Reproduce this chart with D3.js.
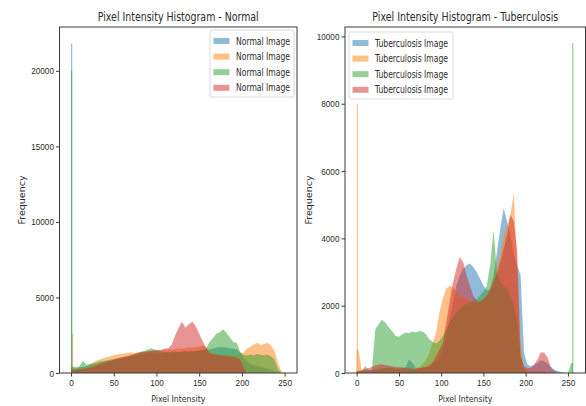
<!DOCTYPE html>
<html>
<head>
<meta charset="utf-8">
<script src="https://cdn.jsdelivr.net/npm/d3@7"></script>
<style>
  body { margin: 0; background: #fff; }
  svg { display: block; font-family: "DejaVu Sans", sans-serif; }
</style>
</head>
<body>
<div id="chart"></div>
<script>
// histogram counts, one value per 4-intensity bin (0-3, 4-7, ... 252-255)
const binWidth = 4;
const xTicks = [0, 50, 100, 150, 200, 250];
const normalYTicks = [0, 5000, 10000, 15000, 20000];
const tbYTicks = [0, 2000, 4000, 6000, 8000, 10000];
const seriesColors = ["#1f77b4", "#ff7f0e", "#2ca02c", "#d62728"];

const normalBlue = [250, 320, 380, 420, 470, 520, 560, 610, 680, 720, 790, 830, 870, 940, 990, 1030,
  1080, 1120, 1170, 1210, 1260, 1290, 1330, 1360, 1340, 1310, 1330, 1350, 1380, 1400, 1420, 1390,
  1410, 1440, 1420, 1460, 1450, 1480, 1500, 1520, 1560, 1620, 1680, 1720, 1700, 1690, 1640, 1600,
  1580, 1350, 1000, 760, 600, 540, 480, 420, 360, 300, 220, 130, 40, 0, 0, 0];
const normalOrange = [400, 230, 260, 300, 420, 560, 700, 820, 900, 980, 1050, 1110, 1170, 1230, 1260, 1290,
  1320, 1350, 1310, 1380, 1400, 1430, 1460, 1440, 1480, 1500, 1470, 1530, 1560, 1540, 1590, 1620,
  1600, 1650, 1700, 1680, 1720, 1760, 1800, 1700, 1450, 1300, 1250, 1220, 1200, 1180, 1150, 1160,
  1200, 1250, 1350, 1600, 1750, 1880, 2000, 1850, 1920, 1980, 1800, 1500, 700, 150, 0, 0];
const normalGreen = [420, 380, 450, 820, 560, 600, 650, 700, 760, 800, 850, 880, 920, 960, 1000, 1050,
  1100, 1160, 1230, 1320, 1400, 1480, 1560, 1640, 1560, 1480, 1420, 1400, 1380, 1350, 1400, 1380,
  1420, 1450, 1400, 1430, 1460, 1480, 1520, 1600, 2050, 2300, 2600, 2700, 2900, 2650, 2350, 2050,
  2000, 1400, 1200, 1180, 1220, 1180, 1250, 1200, 1150, 1220, 1100, 900, 300, 0, 0, 0];
const normalRed = [180, 220, 250, 280, 300, 350, 420, 500, 580, 650, 720, 800, 880, 950, 1020, 1080,
  1130, 1180, 1250, 1300, 1350, 1400, 1430, 1480, 1520, 1500, 1560, 1600, 1650, 1900, 2500, 3000,
  3400, 3000, 3250, 3400, 3100, 2600, 2100, 1700, 1300, 1250, 1200, 1180, 1150, 1120, 1100, 1060,
  1000, 900, 350, 0, 0, 0, 0, 0, 0, 0, 0, 0, 0, 0, 0, 0];

const tbBlue = [60, 50, 70, 80, 100, 120, 130, 140, 150, 160, 150, 140, 130, 150, 170, 400,
  300, 150, 140, 160, 180, 200, 260, 330, 450, 700, 1100, 1600, 2100, 2600, 2900, 3100,
  3200, 3250, 3150, 3000, 2800, 2600, 2450, 2500, 2900, 3600, 4300, 4900, 4500, 4100, 3500, 3200,
  2900, 600, 250, 200, 240, 300, 380, 350, 280, 180, 100, 60, 30, 10, 0, 0];
const tbOrange = [700, 80, 60, 50, 60, 80, 100, 120, 130, 140, 130, 120, 110, 120, 130, 120,
  110, 130, 180, 260, 380, 600, 900, 1200, 1800, 2200, 2500, 2600, 2550, 2400, 2300, 2250,
  2200, 2150, 2100, 2100, 2150, 2200, 2300, 2500, 2800, 3200, 3600, 4100, 4400, 4700, 5350, 3000,
  900, 150, 80, 60, 50, 60, 50, 40, 30, 20, 10, 0, 0, 0, 0, 0];
const tbGreen = [40, 60, 200, 90, 60, 1300, 1450, 1580, 1500, 1350, 1250, 1100, 1080, 1150, 1200, 1180,
  1230, 1200, 1250, 1230, 1150, 1000, 920, 880, 950, 1100, 1300, 1500, 1650, 1800, 1900, 2000,
  2050, 2100, 2150, 2200, 2300, 2400, 2600, 3200, 4250, 3000, 2700, 2600, 2500, 2300, 2000, 1500,
  500, 100, 30, 20, 20, 30, 40, 30, 20, 10, 0, 0, 0, 0, 0, 300];
const tbRed = [60, 90, 120, 150, 180, 220, 250, 260, 240, 220, 200, 180, 170, 160, 150, 140,
  130, 120, 140, 160, 180, 220, 320, 500, 700, 900, 1500, 2100, 2700, 3100, 3450, 3300,
  2900, 2600, 2300, 2150, 2100, 2200, 2300, 2450, 2700, 2950, 3300, 3700, 4100, 4700, 4500, 3600,
  500, 200, 150, 150, 250, 400, 620, 600, 450, 150, 60, 0, 0, 0, 0, 0];

// single-intensity spikes: [series index, intensity, count]
const normalSpikes = [[0, 0, 21800], [2, 0, 20000], [1, 1, 2600]];
const tbSpikes = [[1, 0, 8000], [2, 255, 9800]];

const width = 586, height = 406;
const plotTop = 27, plotBottom = 373;

const panels = [
  { title: "Pixel Intensity Histogram - Normal", titleW: 161, label: "Normal Image", labelW: 54,
    series: [normalBlue, normalOrange, normalGreen, normalRed], spikes: normalSpikes,
    yTicks: normalYTicks, yMax: 22900, xDomain: [-13.5, 264.5], left: 59.5, right: 297,
    legend: { x: 210, y: 30, w: 84 }, yLabelX: 21.5 },
  { title: "Pixel Intensity Histogram - Tuberculosis", titleW: 186, label: "Tuberculosis Image", labelW: 73,
    series: [tbBlue, tbOrange, tbGreen, tbRed], spikes: tbSpikes,
    yTicks: tbYTicks, yMax: 10280, xDomain: [-13.8, 270.8], left: 345, right: 585.5,
    legend: { x: 349, y: 32, w: 104 }, yLabelX: 309 }
];

const svg = d3.select("#chart").append("svg")
  .attr("width", width).attr("height", height);
svg.append("rect").attr("width", width).attr("height", height).attr("fill", "#fff");

const textColor = "#2a2a2a";

panels.forEach(p => {
  const x = d3.scaleLinear().domain(p.xDomain).range([p.left, p.right]);
  const y = d3.scaleLinear().domain([0, p.yMax]).range([plotBottom, plotTop]);
  const g = svg.append("g");

  const area = d3.area()
    .x(d => x(d.x))
    .y0(y(0))
    .y1(d => y(d.y));

  p.series.forEach((vals, si) => {
    const pts = [{ x: 0, y: vals[0] }]
      .concat(vals.map((v, i) => ({ x: i * binWidth + binWidth / 2, y: v })))
      .concat([{ x: 256, y: vals[vals.length - 1] }]);
    g.append("path")
      .attr("d", area(pts))
      .attr("fill", seriesColors[si])
      .attr("fill-opacity", 0.5);

    p.spikes.filter(s => s[0] === si).forEach(s => {
      const x0 = x(s[1]);
      g.append("rect")
        .attr("x", x0)
        .attr("width", Math.max(1.2, x(s[1] + 1) - x0))
        .attr("y", y(s[2]))
        .attr("height", y(0) - y(s[2]))
        .attr("fill", seriesColors[si])
        .attr("fill-opacity", 0.5);
    });
  });

  // frame
  g.append("rect")
    .attr("x", p.left).attr("y", plotTop)
    .attr("width", p.right - p.left).attr("height", plotBottom - plotTop)
    .attr("fill", "none").attr("stroke", "#3a3a3a").attr("stroke-width", 1);

  const xAxis = g.append("g")
    .attr("transform", `translate(0,${plotBottom})`)
    .call(d3.axisBottom(x).tickValues(xTicks).tickSize(3.5).tickPadding(3).tickFormat(d3.format("d")));
  const yAxis = g.append("g")
    .attr("transform", `translate(${p.left},0)`)
    .call(d3.axisLeft(y).tickValues(p.yTicks).tickSize(3.5).tickFormat(d3.format("d")));

  [xAxis, yAxis].forEach(a => {
    a.select(".domain").remove();
    a.selectAll("line").attr("stroke", "#3a3a3a");
    a.selectAll("text")
      .attr("fill", textColor)
      .style("font-size", "9.5px")
      .attr("transform", "scale(0.86,1)");
  });
  xAxis.selectAll("text").attr("y", 6);
  yAxis.selectAll("text").attr("x", -6.5);

  const cx = (p.left + p.right) / 2;
  g.append("text")
    .attr("x", cx).attr("y", 21)
    .attr("text-anchor", "middle")
    .attr("textLength", p.titleW).attr("lengthAdjust", "spacingAndGlyphs")
    .style("font-size", "11.5px").attr("fill", textColor)
    .text(p.title);

  g.append("text")
    .attr("x", cx).attr("y", 402)
    .attr("text-anchor", "middle")
    .attr("textLength", 54).attr("lengthAdjust", "spacingAndGlyphs")
    .style("font-size", "9.5px").attr("fill", textColor)
    .text("Pixel Intensity");

  g.append("text")
    .attr("transform", `translate(${p.yLabelX},${(plotTop + plotBottom) / 2}) rotate(-90)`)
    .attr("text-anchor", "middle").attr("dy", "0.35em")
    .style("font-size", "9.5px").attr("fill", textColor)
    .text("Frequency");

  // legend
  const lg = g.append("g").attr("transform", `translate(${p.legend.x},${p.legend.y})`);
  lg.append("rect")
    .attr("width", p.legend.w).attr("height", 67).attr("rx", 2)
    .attr("fill", "#fff").attr("fill-opacity", 0.8)
    .attr("stroke", "#d0d0d0").attr("stroke-width", 0.8);
  seriesColors.forEach((c, i) => {
    const ry = 11 + i * 15.6;
    lg.append("rect")
      .attr("x", 3.5).attr("y", ry - 3).attr("width", 16).attr("height", 6)
      .attr("fill", c).attr("fill-opacity", 0.5);
    lg.append("text")
      .attr("x", 26).attr("y", ry + 3.6)
      .attr("textLength", p.labelW).attr("lengthAdjust", "spacingAndGlyphs")
      .style("font-size", "10px").attr("fill", textColor)
      .text(p.label);
  });
});
</script>
</body>
</html>
